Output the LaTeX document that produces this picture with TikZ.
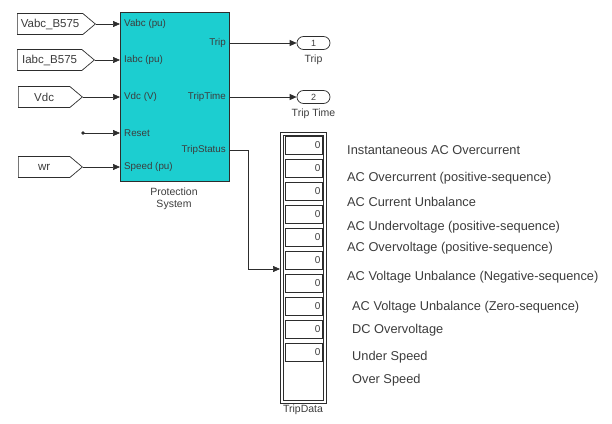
\documentclass[tikz,border=0pt]{standalone}
\usepackage{fontspec}
\setmainfont{Liberation Sans}
\usetikzlibrary{shapes.symbols,arrows.meta}
\definecolor{blockcyan}{RGB}{28,206,208}
\definecolor{txt}{RGB}{60,60,60}
\definecolor{ln}{RGB}{45,45,45}
\begin{document}
\begin{tikzpicture}[x=1pt,y=-1pt,
  every node/.style={text=txt},
  tag/.style={draw=ln, signal, signal to=east, signal pointer angle=80, fill=white,
    minimum height=21pt, inner sep=0pt, font=\fontsize{11.5}{12}\selectfont, anchor=west, line width=0.7pt},
  portlbl/.style={font=\fontsize{9.8}{10}\selectfont, inner sep=0pt},
  outport/.style={draw=ln, rounded corners=6.5pt, minimum width=33pt, minimum height=13pt, inner sep=0pt,
    font=\fontsize{9}{10}\selectfont, line width=0.7pt},
  sig/.style={draw=ln, line width=0.7pt, -{Triangle[length=7pt,width=6pt]}},
  cell/.style={draw=ln, minimum width=37pt, minimum height=18pt, inner sep=0pt, anchor=north west, line width=0.6pt},
  zero/.style={font=\fontsize{10}{11}\selectfont, inner sep=0pt, anchor=east},
  tripitem/.style={font=\fontsize{12.8}{13}\selectfont, anchor=west, inner sep=0pt},
  caption/.style={font=\fontsize{10.5}{12}\selectfont, inner sep=0pt, align=center}
]
\useasboundingbox (0,0) rectangle (612,423);

% main block
\node[draw=ln, fill=blockcyan, line width=0.9pt, minimum width=109pt, minimum height=169pt, inner sep=0pt, anchor=north west] (ps) at (120,12) {};
\node[caption] (pscap) at (174,199) {Protection\\System};

% input tags
\node[tag, minimum width=78pt] (vabc) at (17,24) {Vabc\_B575\hspace{10pt}};
\node[tag, minimum width=77pt] (iabc) at (17,60) {Iabc\_B575\hspace{10pt}};
\node[tag, minimum width=64pt] (vdc) at (18,97) {Vdc\hspace{6pt}};
\node[tag, minimum width=64pt] (wr) at (18,167) {wr\hspace{6pt}};
\coordinate (rst) at (83,133);
\fill[ln] (rst) circle (1.8pt);

% input connections
\draw[sig] (vabc.east) -- (vabc.east -| ps.west);
\draw[sig] (iabc.east) -- (iabc.east -| ps.west);
\draw[sig] (vdc.east) -- (vdc.east -| ps.west);
\draw[sig] (rst) -- (rst -| ps.west);
\draw[sig] (wr.east) -- (wr.east -| ps.west);

% port labels
\node[portlbl, anchor=west] (pl1) at (124,24) {Vabc (pu)};
\node[portlbl, anchor=west] (pl2) at (124,60) {Iabc (pu)};
\node[portlbl, anchor=west] (pl3) at (124,97) {Vdc (V)};
\node[portlbl, anchor=west] (pl4) at (124,133) {Reset};
\node[portlbl, anchor=west] (pl5) at (124,167) {Speed (pu)};
\node[portlbl, anchor=east] (po1) at (226,43) {Trip};
\node[portlbl, anchor=east] (po2) at (226,97) {TripTime};
\node[portlbl, anchor=east] (po3) at (226,150) {TripStatus};

% outports
\node[outport] (out1) at (313.5,43) {1};
\node[caption, anchor=north] (out1l) at (313.5,55) {Trip};
\node[outport] (out2) at (313.5,97) {2};
\node[caption, anchor=north] (out2l) at (313.5,109) {Trip Time};
\draw[sig] (ps.east |- out1.west) -- (out1.west);
\draw[sig] (ps.east |- out2.west) -- (out2.west);

% display
\node[draw=ln, line width=0.6pt, minimum width=46pt, minimum height=271pt, inner sep=0pt, anchor=north west] (disp) at (280,132) {};
\draw[ln, line width=0.5pt] (283,135) rectangle (323,400);
\node[caption, anchor=north] (displ) at (303,405) {TripData};
\foreach \i in {0,...,9} {
  \node[cell] (c\i) at (285,136+23*\i) {};
  \node[zero] at ([xshift=-2pt]c\i.east) {0};
}
\coordinate (bend) at (248,150);
\draw[sig] (ps.east |- bend) -- (bend) -- (bend |- 0,269) -- (disp.west |- 0,269);

% labels
\node[tripitem] (t1) at (347,150) {Instantaneous AC Overcurrent};
\node[tripitem] (t2) at (347,178) {AC Overcurrent (positive-sequence)};
\node[tripitem] (t3) at (347,202) {AC Current Unbalance};
\node[tripitem] (t4) at (347,227) {AC Undervoltage (positive-sequence)};
\node[tripitem] (t5) at (347,248) {AC Overvoltage (positive-sequence)};
\node[tripitem] (t6) at (347,277) {AC Voltage Unbalance (Negative-sequence)};
\node[tripitem] (t7) at (352,307) {AC Voltage Unbalance (Zero-sequence)};
\node[tripitem] (t8) at (352,330) {DC Overvoltage};
\node[tripitem] (t9) at (352,357) {Under Speed};
\node[tripitem] (t10) at (352,380) {Over Speed};
\end{tikzpicture}
\end{document}
